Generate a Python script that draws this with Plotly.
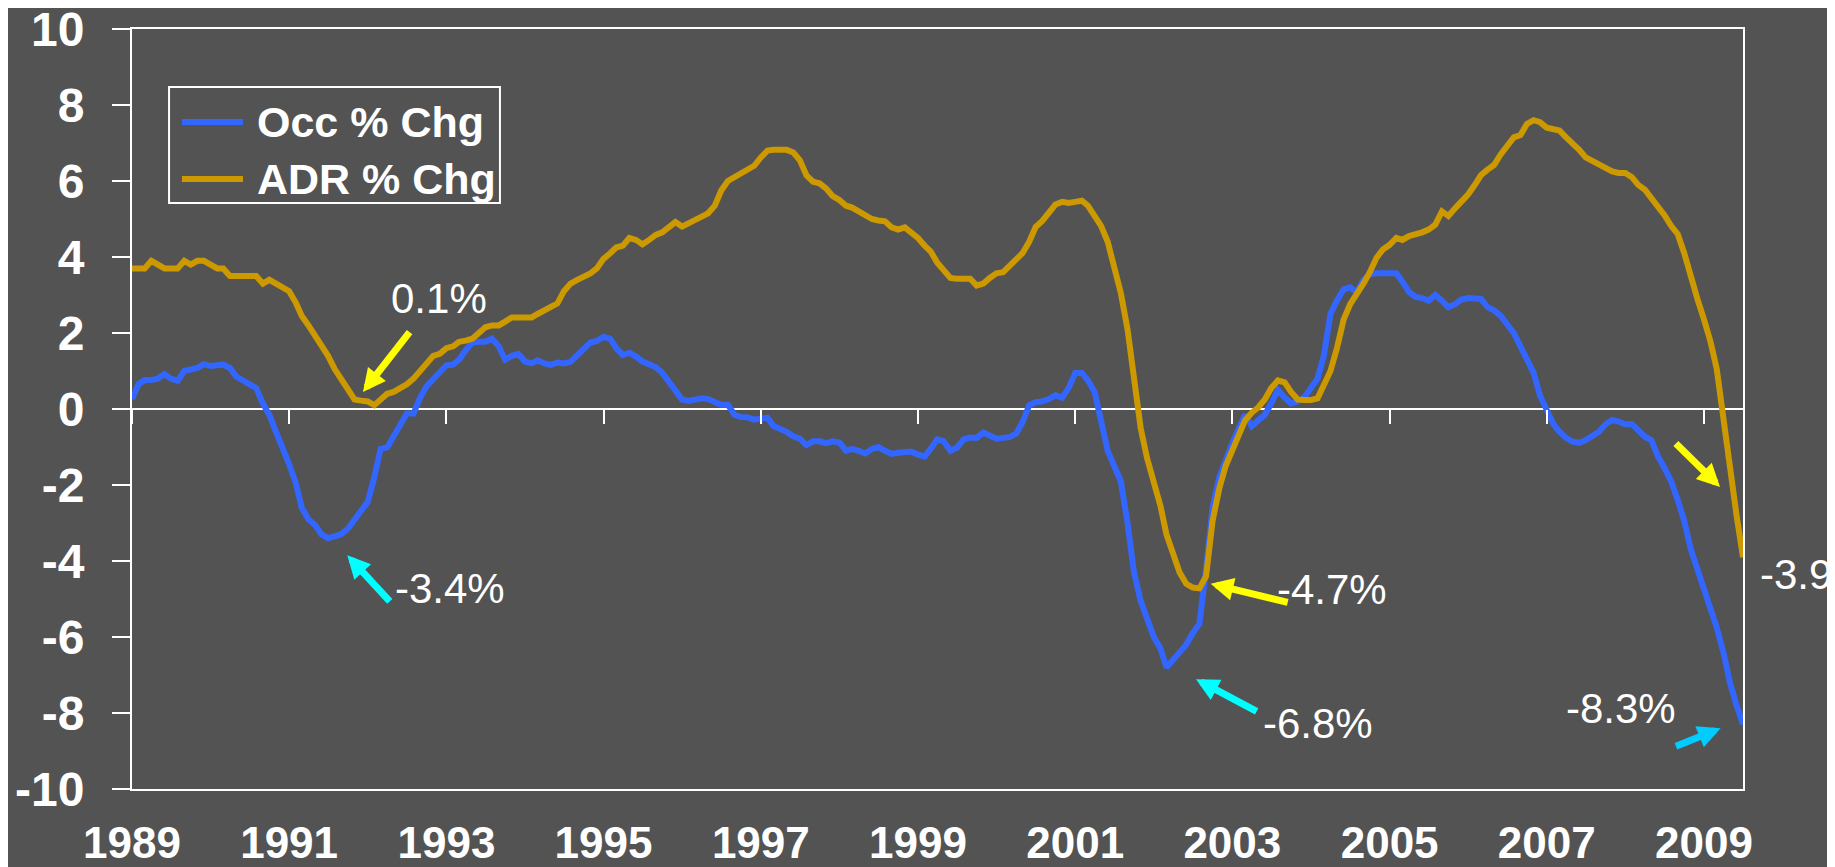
import pandas as pd
import plotly.graph_objects as go

# ---------------- data (monthly, Jan 1989 - Jul 2009) ----------------
start_month = "1989-01-01"

occ_chg = [
    0.26, 0.66, 0.76, 0.76, 0.8, 0.92, 0.8, 0.74, 1.0, 1.03,
    1.08, 1.18, 1.13, 1.15, 1.17, 1.08, 0.85, 0.75, 0.65, 0.55,
    0.15, -0.15, -0.6, -1.0, -1.45, -1.95, -2.6, -2.9, -3.05, -3.3,
    -3.4, -3.35, -3.29, -3.15, -2.9, -2.7, -2.45, -1.8, -1.05, -1.01,
    -0.7, -0.35, -0.12, -0.12, 0.3, 0.6, 0.8, 0.95, 1.15, 1.17,
    1.3, 1.55, 1.75, 1.77, 1.77, 1.85, 1.65, 1.3, 1.4, 1.45,
    1.25, 1.2, 1.28, 1.2, 1.16, 1.22, 1.2, 1.24, 1.42, 1.6,
    1.75, 1.79, 1.9, 1.85, 1.6, 1.42, 1.48, 1.38, 1.25, 1.18,
    1.1, 0.95, 0.7, 0.45, 0.25, 0.21, 0.24, 0.28, 0.26, 0.18,
    0.11, 0.11, -0.15, -0.21, -0.22, -0.28, -0.26, -0.23, -0.45, -0.52,
    -0.6, -0.72, -0.78, -0.95, -0.85, -0.85, -0.9, -0.85, -0.88, -1.1,
    -1.05, -1.1, -1.17, -1.05, -1.0, -1.1, -1.18, -1.15, -1.12, -1.12,
    -1.2, -1.25, -1.05, -0.8, -0.85, -1.1, -1.02, -0.8, -0.75, -0.76,
    -0.62, -0.7, -0.78, -0.76, -0.74, -0.65, -0.35, 0.1, 0.18, 0.2,
    0.26, 0.36, 0.3, 0.55, 0.95, 0.95, 0.75, 0.45, -0.3, -1.1,
    -1.5, -1.9, -3.0, -4.3, -5.05, -5.5, -6.0, -6.3, -6.8, -6.6,
    -6.4, -6.2, -5.9, -5.65, -4.2, -2.6, -1.8, -1.3, -0.9, -0.5,
    -0.15, -0.45, -0.3, -0.15, 0.15, 0.5, 0.3, 0.15, 0.2, 0.3,
    0.55, 0.8, 1.4, 2.5, 2.85, 3.15, 3.2, 3.07, 3.4, 3.55,
    3.57, 3.57, 3.57, 3.57, 3.35, 3.08, 2.95, 2.92, 2.85, 3.0,
    2.85, 2.68, 2.76, 2.88, 2.92, 2.92, 2.9, 2.68, 2.6, 2.45,
    2.2, 2.0, 1.65, 1.3, 0.95, 0.35, -0.05, -0.4, -0.6, -0.76,
    -0.86, -0.89, -0.82, -0.73, -0.6, -0.4, -0.29, -0.33, -0.4, -0.4,
    -0.55, -0.73, -0.82, -1.25, -1.55, -1.9, -2.4, -2.95, -3.7, -4.2,
    -4.7, -5.2, -5.75, -6.4, -7.2, -7.8, -8.3,
]

adr_chg = [
    3.7, 3.7, 3.7, 3.9, 3.8, 3.7, 3.7, 3.7, 3.9, 3.8,
    3.9, 3.9, 3.8, 3.7, 3.7, 3.5, 3.5, 3.5, 3.5, 3.5,
    3.3, 3.4, 3.3, 3.2, 3.1, 2.8, 2.45, 2.2, 1.95, 1.7,
    1.4, 1.05, 0.8, 0.55, 0.25, 0.22, 0.2, 0.1, 0.26, 0.4,
    0.45, 0.55, 0.65, 0.8, 1.0, 1.2, 1.4, 1.45, 1.6, 1.65,
    1.77, 1.8, 1.85, 2.0, 2.15, 2.2, 2.2, 2.3, 2.41, 2.41,
    2.41, 2.41, 2.5, 2.6, 2.7, 2.78, 3.1, 3.3, 3.4, 3.47,
    3.57, 3.7, 3.95, 4.1, 4.25, 4.3, 4.5, 4.45, 4.33, 4.45,
    4.58, 4.65, 4.8, 4.92, 4.8, 4.88, 4.97, 5.05, 5.15, 5.35,
    5.75, 6.0, 6.1, 6.2, 6.3, 6.4, 6.62, 6.8, 6.82, 6.82,
    6.82, 6.75, 6.55, 6.15, 5.98, 5.94, 5.8, 5.6, 5.5, 5.35,
    5.3, 5.2, 5.08, 5.0, 4.96, 4.94, 4.78, 4.72, 4.78, 4.65,
    4.5, 4.3, 4.15, 3.85, 3.65, 3.45, 3.43, 3.43, 3.43, 3.25,
    3.3, 3.45, 3.57, 3.6, 3.75, 3.9, 4.1, 4.4, 4.79, 4.95,
    5.15, 5.38, 5.45, 5.42, 5.45, 5.48, 5.35, 5.1, 4.82, 4.4,
    3.73, 3.05, 2.1, 0.9, -0.5, -1.3, -1.95, -2.55, -3.3, -3.85,
    -4.3, -4.6, -4.7, -4.72, -4.4, -2.95, -2.1, -1.5, -1.1, -0.7,
    -0.3, -0.1, 0.04, 0.25, 0.55, 0.75, 0.7, 0.45, 0.25, 0.24,
    0.24, 0.28, 0.6, 1.0, 1.6, 2.35, 2.75, 3.0, 3.3, 3.6,
    3.98, 4.2, 4.32, 4.5, 4.45, 4.55, 4.59, 4.65, 4.72, 4.85,
    5.2, 5.08, 5.28, 5.45, 5.65, 5.9, 6.15, 6.3, 6.42, 6.7,
    6.95, 7.15, 7.21, 7.5, 7.6, 7.55, 7.4, 7.37, 7.33, 7.15,
    7.0, 6.82, 6.62, 6.52, 6.45, 6.35, 6.25, 6.21, 6.21, 6.1,
    5.9, 5.77, 5.55, 5.35, 5.1, 4.82, 4.6, 4.1, 3.45, 2.9,
    2.35, 1.75, 1.05, -0.3, -1.65, -2.8, -3.9,
]

series_names = ["Occ % Chg", "ADR % Chg"]
year_labels = [str(y) for y in range(1989, 2010, 2)]
y_ticks = list(range(-10, 11, 2))
callout_labels = ["0.1%", "-3.4%", "-4.7%", "-6.8%", "-8.3%", "-3.9"]

months = pd.date_range(start_month, periods=len(occ_chg), freq="MS")
tick_dates = [f"{y}-01-01" for y in year_labels]

# ---------------- styling ----------------
BG = "#535353"
OCC_COLOR = "#3366FF"
ADR_COLOR = "#CC9900"
FONT = "Liberation Sans, Arial, sans-serif"
base = pd.Timestamp(start_month)


def mdate(m):
    """fractional month offset from the first month -> date string"""
    whole = int(m)
    d = base + pd.DateOffset(months=whole) + pd.Timedelta(days=(m - whole) * 30.4)
    return d.strftime("%Y-%m-%d %H:%M")


fig = go.Figure()
fig.add_trace(go.Scatter(x=months, y=occ_chg, name=series_names[0], mode="lines",
                         line=dict(color=OCC_COLOR, width=6), showlegend=False))
fig.add_trace(go.Scatter(x=months, y=adr_chg, name=series_names[1], mode="lines",
                         line=dict(color=ADR_COLOR, width=6), showlegend=False))
# empty helper trace so the tick-mark axis sitting on the zero line is drawn
fig.add_trace(go.Scatter(x=[], y=[], xaxis="x2", yaxis="y", showlegend=False,
                         hoverinfo="skip"))

annotations = []
shapes = []

# arrows: (head month, head value, tail month, tail value, color)
arrows = [
    (35.3, 0.45, 42.6, 2.06, "#FFFF00"),
    (32.9, -3.85, 39.6, -5.1, "#00FFFF"),
    (164.7, -4.6, 176.7, -5.1, "#FFFF00"),
    (162.5, -7.11, 172.0, -7.98, "#00FFFF"),
    (242.6, -8.4, 235.5, -8.89, "#00CCFF"),
    (242.5, -2.05, 235.5, -0.87, "#FFFF00"),
]
for hm, hv, tm, tv, col in arrows:
    annotations.append(dict(
        x=mdate(hm), y=hv, xref="x", yref="y",
        ax=mdate(tm), ay=tv, axref="x", ayref="y",
        text="", showarrow=True, arrowhead=2, arrowsize=0.65, arrowwidth=7,
        arrowcolor=col, standoff=0, startstandoff=0))

# callout texts (center month, value)
text_pos = [(46.9, 2.9), (48.6, -4.72), (183.3, -4.74), (181.0, -8.27), (227.3, -7.88)]
for lbl, (m, v) in zip(callout_labels[:5], text_pos):
    annotations.append(dict(x=mdate(m), y=v, xref="x", yref="y", text=lbl,
                            showarrow=False, xanchor="center", yanchor="middle",
                            font=dict(family=FONT, size=42, color="#FFFFFF")))
# last ADR value, outside the plot on the right
annotations.append(dict(x=1.0, y=-4.35, xref="paper", yref="y", text=callout_labels[5],
                        showarrow=False, xanchor="right", yanchor="middle",
                        xshift=91,
                        font=dict(family=FONT, size=42, color="#FFFFFF")))

# ---- custom legend ----
shapes.append(dict(type="rect", xref="paper", yref="paper", x0=0.023, x1=0.2284,
                   y0=0.771, y1=0.9237, line=dict(color="#FFFFFF", width=2),
                   fillcolor=BG, layer="below"))
for name, col, yy in [(series_names[0], OCC_COLOR, 0.8776), (series_names[1], ADR_COLOR, 0.8026)]:
    shapes.append(dict(type="line", xref="paper", yref="paper", x0=0.031, x1=0.0689,
                       y0=yy, y1=yy, line=dict(color=col, width=6)))
    annotations.append(dict(x=0.0764, y=yy, xref="paper", yref="paper", text=name,
                            showarrow=False, xanchor="left", yanchor="middle",
                            font=dict(family=FONT, size=43, color="#FFFFFF", weight="bold")))

# the page body adds an 8px margin, so the figure is sized to fill the rest of the window
fig.update_layout(
    width=1827, height=859,
    margin=dict(l=124, r=92, t=21, b=78),
    paper_bgcolor=BG, plot_bgcolor=BG,
    font=dict(family=FONT, color="#FFFFFF"),
    xaxis=dict(type="date", range=[months[0], months[-1]], automargin=False,
               tickmode="array", tickvals=tick_dates, ticktext=year_labels,
               ticks="", showgrid=False, zeroline=False, ticklabeloverflow="allow",
               showline=True, linecolor="#FFFFFF", linewidth=2, mirror=True,
               tickfont=dict(family=FONT, size=44, color="#FFFFFF", weight="bold"),
               ticklabelstandoff=14),
    xaxis2=dict(type="date", overlaying="x", matches="x", anchor="free", position=0.5,
                side="bottom", tickmode="array", tickvals=tick_dates, automargin=False,
                ticks="outside", ticklen=14, tickwidth=2, tickcolor="#FFFFFF",
                showticklabels=False, showline=False, showgrid=False, zeroline=False),
    yaxis=dict(range=[-10, 10], tickmode="array", tickvals=y_ticks, automargin=False,
               ticktext=[str(v) for v in y_ticks], ticklabeloverflow="allow",
               ticks="outside", ticklen=18, tickwidth=2, tickcolor="#FFFFFF",
               showgrid=False, zeroline=True, zerolinecolor="#FFFFFF", zerolinewidth=2,
               showline=True, linecolor="#FFFFFF", linewidth=2, mirror=True,
               tickfont=dict(family=FONT, size=48, color="#FFFFFF", weight="bold"),
               ticklabelstandoff=18),
    annotations=annotations,
    shapes=shapes,
    showlegend=False,
)

fig.write_html("out.html")
